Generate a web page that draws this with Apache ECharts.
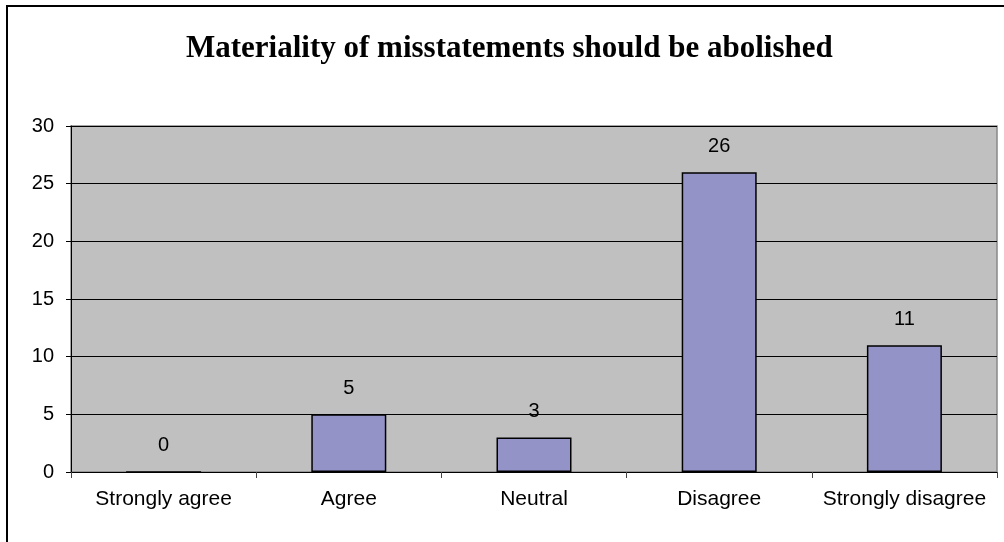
<!DOCTYPE html>
<html>
<head>
<meta charset="utf-8">
<script src="https://cdn.jsdelivr.net/npm/echarts@6/dist/echarts.min.js"></script>
<style>
  html, body { margin: 0; padding: 0; background: #fff; }
  #chart { width: 1004px; height: 542px; }
</style>
</head>
<body>
<div id="chart"></div>
<script>
// Survey responses
const titleText = 'Materiality of misstatements should be abolished';
const categories = ['Strongly agree', 'Agree', 'Neutral', 'Disagree', 'Strongly disagree'];
const responses = [0, 5, 3, 26, 11];
const yTicks = { min: 0, max: 30, interval: 5 };

const chart = echarts.init(document.getElementById('chart'), null, { renderer: 'canvas' });

chart.setOption({
  backgroundColor: '#ffffff',
  animation: false,
  title: {
    text: titleText,
    left: 181,
    top: 28,
    textStyle: {
      fontFamily: 'Liberation Serif',
      fontWeight: 'bold',
      fontSize: 31,
      color: '#000'
    }
  },
  graphic: [
    {
      type: 'rect',
      shape: { x: 7, y: 6, width: 1100, height: 700 },
      style: { fill: 'none', stroke: '#000', lineWidth: 2 },
      silent: true
    }
  ],
  grid: {
    left: 71,
    top: 126,
    right: 7,
    bottom: 70,
    show: true,
    backgroundColor: '#C0C0C0',
    borderColor: '#888888',
    borderWidth: 1.5
  },
  xAxis: {
    type: 'category',
    data: categories,
    axisLine: { lineStyle: { color: '#000', width: 1 } },
    axisTick: { show: true, interval: 0, alignWithLabel: false, length: 6, lineStyle: { color: '#444' } },
    axisLabel: {
      interval: 0,
      margin: 17,
      fontFamily: 'Liberation Sans',
      fontSize: 21,
      color: '#000'
    },
    splitLine: { show: false }
  },
  yAxis: {
    type: 'value',
    min: yTicks.min,
    max: yTicks.max,
    interval: yTicks.interval,
    axisLine: { show: true, lineStyle: { color: '#000', width: 1 } },
    axisTick: { show: true, length: 5, lineStyle: { color: '#000' } },
    axisLabel: {
      margin: 17,
      fontFamily: 'Liberation Sans',
      fontSize: 20,
      color: '#000'
    },
    splitLine: { show: true, lineStyle: { color: '#000', width: 1 } }
  },
  series: [
    {
      type: 'bar',
      data: responses,
      barWidth: '40.5%',
      itemStyle: {
        color: '#9393C7',
        borderColor: '#000',
        borderWidth: 1.5
      },
      label: {
        show: true,
        position: 'top',
        distance: 16,
        fontFamily: 'Liberation Sans',
        fontSize: 20,
        color: '#000'
      }
    }
  ]
});
</script>
</body>
</html>
